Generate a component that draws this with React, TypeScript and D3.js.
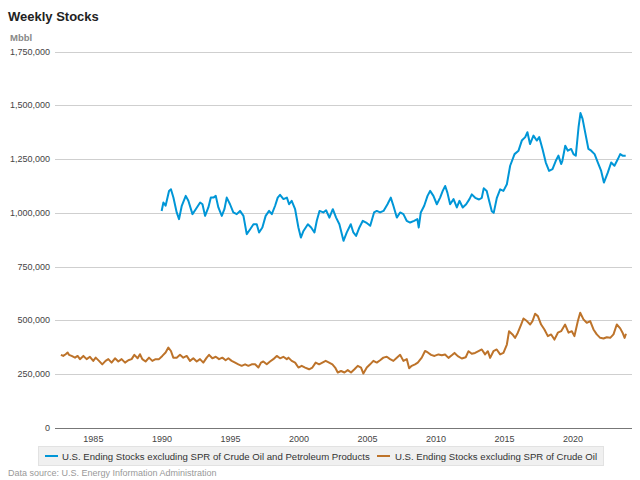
import React from 'react';
import * as d3 from 'd3';

// [year, thousand barrels]
const productsSeries: [number, number][] = [
  [1989.98, 1009], [1990.11, 1048], [1990.27, 1033], [1990.52, 1102], [1990.66, 1110], [1990.84, 1071],
  [1991.08, 1002], [1991.25, 971], [1991.45, 1033], [1991.74, 1079], [1991.93, 1056], [1992.23, 994],
  [1992.47, 1017], [1992.79, 1048], [1992.96, 1040], [1993.15, 986], [1993.39, 1025], [1993.57, 1071],
  [1993.76, 1071], [1993.93, 1079], [1994.12, 1025], [1994.37, 986], [1994.56, 1017], [1994.73, 1071],
  [1994.97, 1040], [1995.21, 1002], [1995.46, 994], [1995.70, 1009], [1995.95, 986], [1996.19, 901],
  [1996.44, 924], [1996.68, 947], [1996.92, 947], [1997.09, 909], [1997.33, 932], [1997.57, 986],
  [1997.82, 1009], [1998.02, 994], [1998.26, 1033], [1998.45, 1071], [1998.62, 1084], [1998.87, 1064],
  [1999.12, 1071], [1999.28, 1040], [1999.47, 1056], [1999.72, 1017], [1999.96, 932], [2000.14, 885],
  [2000.33, 916], [2000.65, 947], [2000.89, 932], [2001.13, 909], [2001.30, 963], [2001.50, 1009],
  [2001.78, 1002], [2001.98, 1012], [2002.22, 978], [2002.47, 1017], [2002.71, 978], [2002.95, 947],
  [2003.25, 870], [2003.49, 909], [2003.78, 947], [2003.97, 909], [2004.17, 893], [2004.41, 932],
  [2004.66, 963], [2004.90, 955], [2005.20, 940], [2005.48, 1002], [2005.68, 1009], [2005.92, 1002],
  [2006.17, 1009], [2006.46, 1040], [2006.70, 1071], [2006.89, 1033], [2007.14, 978], [2007.38, 1002],
  [2007.62, 994], [2007.86, 963], [2008.11, 955], [2008.40, 963], [2008.64, 971], [2008.74, 932],
  [2008.89, 1002], [2009.14, 1033], [2009.38, 1079], [2009.57, 1102], [2009.81, 1079], [2010.06, 1040],
  [2010.30, 1071], [2010.49, 1102], [2010.67, 1125], [2010.83, 1094], [2011.03, 1040], [2011.28, 1064],
  [2011.52, 1025], [2011.71, 1056], [2011.95, 1025], [2012.20, 1040], [2012.44, 1064], [2012.61, 1086],
  [2012.86, 1070], [2013.14, 1062], [2013.34, 1070], [2013.48, 1114], [2013.70, 1102], [2013.88, 1055],
  [2014.07, 1008], [2014.21, 1000], [2014.44, 1070], [2014.68, 1109], [2014.92, 1102], [2015.17, 1133],
  [2015.41, 1219], [2015.73, 1273], [2016.02, 1289], [2016.26, 1336], [2016.51, 1352], [2016.67, 1375],
  [2016.86, 1320], [2017.11, 1359], [2017.35, 1336], [2017.53, 1352], [2017.77, 1297], [2018.01, 1234],
  [2018.25, 1195], [2018.50, 1203], [2018.74, 1242], [2018.93, 1266], [2019.13, 1227], [2019.22, 1242],
  [2019.43, 1312], [2019.62, 1289], [2019.86, 1297], [2020.03, 1273], [2020.20, 1266], [2020.40, 1398],
  [2020.54, 1464], [2020.69, 1438], [2020.88, 1375], [2021.12, 1297], [2021.32, 1289], [2021.57, 1273],
  [2021.81, 1234], [2022.05, 1195], [2022.25, 1141], [2022.54, 1188], [2022.78, 1234], [2023.02, 1219],
  [2023.27, 1250], [2023.44, 1273], [2023.61, 1266], [2023.84, 1266],
];

const crudeSeries: [number, number][] = [
  [1982.63, 340], [1982.80, 335], [1982.98, 343], [1983.12, 351], [1983.22, 340], [1983.41, 335],
  [1983.66, 327], [1983.85, 335], [1984.02, 320], [1984.27, 335], [1984.51, 320], [1984.75, 331],
  [1984.99, 312], [1985.17, 327], [1985.41, 312], [1985.65, 296], [1985.89, 312], [1986.09, 320],
  [1986.33, 304], [1986.58, 324], [1986.82, 309], [1987.06, 320], [1987.31, 304], [1987.55, 315],
  [1987.79, 320], [1987.99, 340], [1988.23, 324], [1988.40, 343], [1988.57, 320], [1988.81, 309],
  [1989.06, 327], [1989.30, 312], [1989.54, 320], [1989.79, 320], [1990.03, 335], [1990.27, 351],
  [1990.47, 374], [1990.66, 358], [1990.83, 327], [1991.08, 327], [1991.32, 340], [1991.56, 327],
  [1991.81, 335], [1992.05, 312], [1992.29, 324], [1992.54, 309], [1992.78, 320], [1993.02, 304],
  [1993.27, 327], [1993.44, 340], [1993.68, 324], [1993.93, 331], [1994.17, 320], [1994.41, 327],
  [1994.65, 315], [1994.85, 324], [1995.09, 312], [1995.34, 304], [1995.58, 296], [1995.82, 289],
  [1996.07, 296], [1996.31, 289], [1996.55, 296], [1996.80, 296], [1997.04, 281], [1997.23, 304],
  [1997.40, 309], [1997.65, 296], [1997.89, 309], [1998.13, 320], [1998.38, 335], [1998.62, 324],
  [1998.86, 331], [1999.11, 320], [1999.23, 327], [1999.47, 312], [1999.72, 304], [1999.96, 281],
  [2000.20, 289], [2000.45, 281], [2000.74, 273], [2000.98, 281], [2001.22, 304], [2001.47, 296],
  [2001.71, 304], [2001.95, 312], [2002.20, 304], [2002.44, 296], [2002.64, 281], [2002.83, 258],
  [2003.07, 265], [2003.32, 258], [2003.56, 269], [2003.80, 258], [2004.05, 273], [2004.29, 289],
  [2004.53, 281], [2004.70, 253], [2004.95, 281], [2005.19, 296], [2005.43, 312], [2005.68, 304],
  [2005.92, 315], [2006.16, 327], [2006.41, 331], [2006.65, 320], [2006.89, 312], [2007.14, 327],
  [2007.38, 340], [2007.62, 312], [2007.87, 320], [2008.04, 278], [2008.23, 289], [2008.47, 296],
  [2008.67, 304], [2008.96, 327], [2009.20, 358], [2009.40, 351], [2009.64, 340], [2009.89, 335],
  [2010.18, 342], [2010.42, 338], [2010.66, 342], [2010.91, 326], [2011.15, 338], [2011.35, 349],
  [2011.59, 334], [2011.88, 323], [2012.17, 329], [2012.37, 357], [2012.61, 345], [2012.85, 349],
  [2013.10, 357], [2013.34, 365], [2013.58, 342], [2013.78, 357], [2013.95, 326], [2014.19, 357],
  [2014.43, 365], [2014.68, 342], [2014.92, 349], [2015.17, 388], [2015.33, 450], [2015.58, 435],
  [2015.77, 419], [2015.97, 443], [2016.21, 481], [2016.38, 509], [2016.63, 497], [2016.87, 481],
  [2017.04, 497], [2017.23, 531], [2017.43, 520], [2017.67, 481], [2017.91, 458], [2018.16, 427],
  [2018.40, 435], [2018.64, 411], [2018.89, 443], [2019.13, 450], [2019.42, 481], [2019.67, 443],
  [2019.91, 450], [2020.10, 427], [2020.35, 497], [2020.52, 536], [2020.76, 505], [2021.00, 489],
  [2021.25, 497], [2021.49, 458], [2021.73, 435], [2021.98, 419], [2022.22, 416], [2022.46, 422],
  [2022.71, 419], [2022.95, 435], [2023.19, 481], [2023.44, 463], [2023.61, 443], [2023.76, 419],
  [2023.86, 438],
];

const yTicks = [0, 250000, 500000, 750000, 1000000, 1250000, 1500000, 1750000];
const xTicks = [1985, 1990, 1995, 2000, 2005, 2010, 2015, 2020];
const seriesNames = [
  'U.S. Ending Stocks excluding SPR of Crude Oil and Petroleum Products',
  'U.S. Ending Stocks excluding SPR of Crude Oil',
];
const seriesColors = ['#0096d7', '#bd732a'];

export default function App() {
  const width = 640;
  const height = 480;
  const left = 55;
  const right = 632;
  const top = 51.5;
  const bottom = 428;

  const x = d3.scaleLinear().domain([1982.2, 2024.3]).range([left, right]);
  const y = d3.scaleLinear().domain([0, 1750000]).range([bottom, top]);

  const line = d3
    .line<[number, number]>()
    .x((d) => x(d[0]))
    .y((d) => y(d[1] * 1000));

  const fmt = d3.format(',');
  const font = '"Liberation Sans", Arial, sans-serif';

  return (
    <svg
      width={width}
      height={height}
      style={{ position: 'absolute', left: 0, top: 0, fontFamily: font, background: '#fff' }}
    >
      <text x={8} y={21} fontSize={13} fontWeight="bold" fill="#222">Weekly Stocks</text>
      <text x={10} y={41} fontSize={9.5} fontWeight="bold" fill="#888">Mbbl</text>

      {/* grid + y labels */}
      {yTicks.map((t) => (
        <g key={`y-${t}`}>
          <line
            x1={left}
            x2={right}
            y1={Math.round(y(t)) + 0.5}
            y2={Math.round(y(t)) + 0.5}
            stroke={t === 0 ? '#777' : '#cfcfcf'}
            strokeWidth={1}
          />
          <text x={50} y={y(t) + 3} fontSize={9} textAnchor="end" fill="#444">
            {fmt(t)}
          </text>
        </g>
      ))}

      {xTicks.map((t) => (
        <text key={`x-${t}`} x={x(t)} y={bottom + 14} fontSize={9} textAnchor="middle" fill="#444">
          {t}
        </text>
      ))}

      <path d={line(productsSeries) ?? ''} fill="none" stroke={seriesColors[0]} strokeWidth={2} strokeLinejoin="round" />
      <path d={line(crudeSeries) ?? ''} fill="none" stroke={seriesColors[1]} strokeWidth={2} strokeLinejoin="round" />

      {/* legend */}
      <rect x={38.5} y={446.5} width={565} height={19} fill="#f0f0f0" stroke="#e2e2e2" />
      <line x1={45} x2={58} y1={456} y2={456} stroke={seriesColors[0]} strokeWidth={2} />
      <text x={62} y={459.5} fontSize={9.6} fill="#333">{seriesNames[0]}</text>
      <line x1={377} x2={390} y1={456} y2={456} stroke={seriesColors[1]} strokeWidth={2} />
      <text x={395} y={459.5} fontSize={9.6} fill="#333">{seriesNames[1]}</text>

      <text x={8} y={476} fontSize={9} fill="#999">Data source: U.S. Energy Information Administration</text>
    </svg>
  );
}
